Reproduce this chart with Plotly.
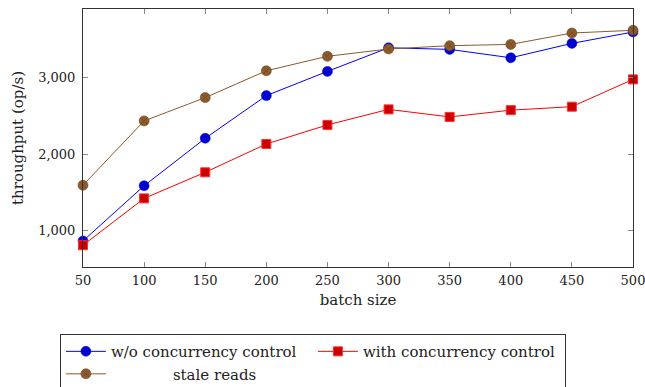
import plotly.graph_objects as go

batch = [50, 100, 150, 200, 250, 300, 350, 400, 450, 500]
wo_cc = [870, 1587, 2204, 2759, 3074, 3381, 3360, 3251, 3438, 3586]
with_cc = [814, 1423, 1762, 2130, 2378, 2580, 2482, 2570, 2615, 2970]
stale = [1594, 2430, 2733, 3082, 3270, 3365, 3408, 3425, 3573, 3608]

x_ticks = [50, 100, 150, 200, 250, 300, 350, 400, 450, 500]
y_ticks = [1000, 2000, 3000]
y_tick_text = ["1,000", "2,000", "3,000"]

FONT = "DejaVu Serif"
NB = "\u00a0"

fig = go.Figure()
fig.add_trace(go.Scatter(
    x=batch, y=wo_cc, mode="lines+markers", name="w/o concurrency control",
    line=dict(color="#0000ff", width=1), cliponaxis=False,
    marker=dict(symbol="circle", size=10, color="#0000cc", line=dict(color="#0000ff", width=0.5)),
))
fig.add_trace(go.Scatter(
    x=batch, y=with_cc, mode="lines+markers", name="with concurrency control" + NB * 4,
    line=dict(color="#ff0000", width=1), cliponaxis=False,
    marker=dict(symbol="square", size=9, color="#cc0000", line=dict(color="#ff3030", width=1)),
))
fig.add_trace(go.Scatter(
    x=batch, y=stale, mode="lines+markers",
    name=NB * 13 + "stale reads",
    line=dict(color="#8b5a2b", width=1), cliponaxis=False,
    marker=dict(symbol="circle-x", size=10, color="#8e5c2c", line=dict(color="#6b4420", width=0.6)),
))

axis_common = dict(
    showgrid=False, zeroline=False, showline=True, linecolor="#333333", linewidth=1,
    mirror="ticks", ticks="inside", ticklen=5, tickcolor="#888888", tickwidth=1,
    tickfont=dict(family=FONT, size=13, color="#222222"),
    automargin=False, ticklabeloverflow="allow",
)

fig.update_layout(
    width=645, height=387,
    margin=dict(l=83, r=12, t=9, b=120, autoexpand=False),
    paper_bgcolor="white", plot_bgcolor="white",
    font=dict(family=FONT, size=13, color="#222222"),
    xaxis=dict(range=[50, 500], tickvals=x_ticks, ticklabelstandoff=1,
               title=dict(text="batch size", font=dict(family=FONT, size=15), standoff=7),
               **axis_common),
    yaxis=dict(range=[531, 3885], tickvals=y_ticks, ticktext=y_tick_text, ticklabelstandoff=4,
               title=dict(text="throughput (op/s)", font=dict(family=FONT, size=15), standoff=10),
               **axis_common),
    legend=dict(
        orientation="h", x=-0.042, y=-0.26, xanchor="left", yanchor="top",
        entrywidth=197, entrywidthmode="pixels",
        bordercolor="#333333", borderwidth=1, bgcolor="white",
        font=dict(family=FONT, size=15, color="#222222"),
        tracegroupgap=0, itemwidth=40,
    ),
    showlegend=True,
)

fig.write_html(
    "out.html",
    config={"displayModeBar": False},
    post_script="document.body.style.margin='0';document.body.style.overflow='hidden';",
)
